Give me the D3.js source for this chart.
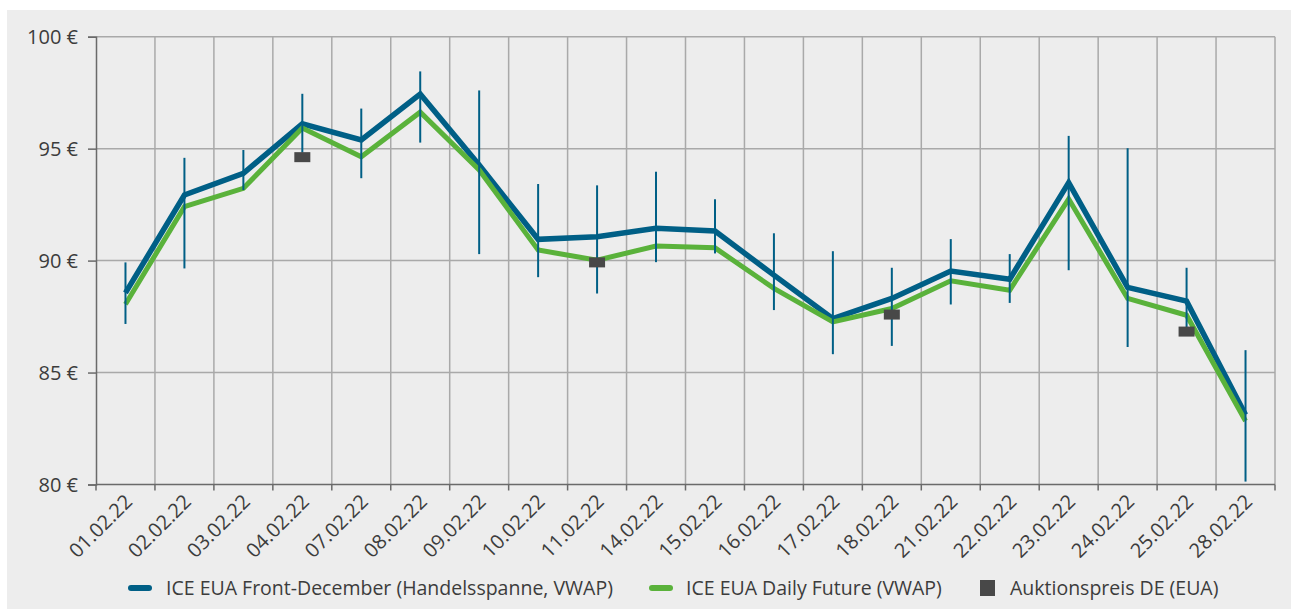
<!DOCTYPE html>
<html>
<head>
<meta charset="utf-8">
<script src="https://cdn.jsdelivr.net/npm/d3@7"></script>
<style>
  body { margin: 0; background: #fff; }
  svg text { font-family: "Open Sans", sans-serif; fill: #3c3c3c; }
</style>
</head>
<body>
<svg id="chart" width="1291" height="609"></svg>
<script>
// DATA
var dates = ["01.02.22", "02.02.22", "03.02.22", "04.02.22", "07.02.22", "08.02.22", "09.02.22",
  "10.02.22", "11.02.22", "14.02.22", "15.02.22", "16.02.22", "17.02.22", "18.02.22",
  "21.02.22", "22.02.22", "23.02.22", "24.02.22", "25.02.22", "28.02.22"];
var frontDec = [88.56, 92.93, 93.9, 96.11, 95.39, 97.44, 94.27, 90.95, 91.07, 91.44,
  91.32, 89.35, 87.41, 88.31, 89.53, 89.17, 93.48, 88.8, 88.19, 83.12];
var frontHigh = [89.92, 94.59, 94.94, 97.45, 96.79, 98.45, 97.6, 93.42, 93.36, 93.97,
  92.74, 91.22, 90.42, 89.68, 90.96, 90.29, 95.57, 95.02, 89.68, 86.0];
var frontLow = [87.17, 89.65, 93.15, 94.82, 93.68, 95.27, 90.29, 89.26, 88.53, 89.93,
  90.32, 87.79, 85.82, 86.19, 88.04, 88.11, 89.57, 86.14, 86.75, 80.13];
var dailyFut = [88.05, 92.41, 93.23, 95.92, 94.64, 96.63, 94.05, 90.47, 90.02, 90.65,
  90.57, 88.76, 87.26, 87.86, 89.1, 88.68, 92.75, 88.31, 87.56, 82.84];
var auction = [null, null, null, 94.62, null, null, null, null, 89.92, null,
  null, null, null, 87.59, null, null, null, null, 86.83, null];
var yTicks = [80, 85, 90, 95, 100];
var legendNames = ["ICE EUA Front-December (Handelsspanne, VWAP)", "ICE EUA Daily Future (VWAP)", "Auktionspreis DE (EUA)"];

var blue = "#005f86", green = "#5ab23b", dark = "#484848", grid = "#a9a9a9";

// SETUP
var svg = d3.select("#chart");
var x = d3.scaleBand().domain(dates).range([96, 1275]).padding(0);
var y = d3.scaleLinear().domain([80, 100]).range([484.5, 36.7]);

svg.append("rect")
  .attr("x", 7).attr("y", 10)
  .attr("width", 1284).attr("height", 599)
  .attr("fill", "#ededed");

// horizontal grid
svg.append("g")
  .selectAll("line")
  .data(yTicks.slice(1))
  .enter().append("line")
  .attr("x1", 96).attr("x2", 1275)
  .attr("y1", function (d) { return y(d); })
  .attr("y2", function (d) { return y(d); })
  .attr("stroke", grid).attr("stroke-width", 1.5);

// vertical grid at band edges
var edges = dates.map(function (d) { return x(d); }).slice(1).concat([x.range()[1]]);
svg.append("g")
  .selectAll("line")
  .data(edges)
  .enter().append("line")
  .attr("x1", function (d) { return d; })
  .attr("x2", function (d) { return d; })
  .attr("y1", y(100)).attr("y2", y(80))
  .attr("stroke", grid).attr("stroke-width", 1.5);

// y axis
var yAxis = svg.append("g")
  .attr("transform", "translate(96,0)")
  .call(d3.axisLeft(y).tickValues(yTicks).tickSize(8).tickPadding(10)
    .tickFormat(function (d) { return d + " €"; }));
yAxis.select(".domain").attr("stroke", "#6a6a6a").attr("stroke-width", 1.5);
yAxis.selectAll(".tick line").attr("stroke", "#6a6a6a").attr("stroke-width", 1.5);
yAxis.selectAll(".tick text")
  .attr("font-size", 20)
  .attr("font-family", "Open Sans")
  .attr("fill", "#3c3c3c")
  .attr("dy", "0.33em");

// x axis
svg.append("line")
  .attr("x1", 96).attr("x2", 1275)
  .attr("y1", y(80)).attr("y2", y(80))
  .attr("stroke", "#6a6a6a").attr("stroke-width", 1.5);
svg.append("g")
  .selectAll("line")
  .data([96].concat(edges))
  .enter().append("line")
  .attr("x1", function (d) { return d; })
  .attr("x2", function (d) { return d; })
  .attr("y1", y(80)).attr("y2", y(80) + 6)
  .attr("stroke", "#6a6a6a").attr("stroke-width", 1.5);

svg.append("g")
  .selectAll("text")
  .data(dates)
  .enter().append("text")
  .attr("transform", function (d) {
    return "translate(" + (x(d) + x.bandwidth() / 2 + 8) + ",503) rotate(-45)";
  })
  .attr("text-anchor", "end")
  .attr("font-size", 20)
  .text(function (d) { return d; });

// LINES
function cx(i) { return x(dates[i]) + x.bandwidth() / 2; }

var line = d3.line()
  .x(function (d, i) { return cx(i); })
  .y(function (d) { return y(d); });

svg.append("path")
  .datum(frontDec)
  .attr("d", line)
  .attr("fill", "none")
  .attr("stroke", blue)
  .attr("stroke-width", 5.5)
  .attr("stroke-linejoin", "miter");

svg.append("path")
  .datum(dailyFut)
  .attr("d", line)
  .attr("fill", "none")
  .attr("stroke", green)
  .attr("stroke-width", 5)
  .attr("stroke-linejoin", "miter");

// high-low range
svg.append("g")
  .selectAll("line")
  .data(dates)
  .enter().append("line")
  .attr("x1", function (d, i) { return cx(i); })
  .attr("x2", function (d, i) { return cx(i); })
  .attr("y1", function (d, i) { return y(frontHigh[i]); })
  .attr("y2", function (d, i) { return y(frontLow[i]); })
  .attr("stroke", blue)
  .attr("stroke-width", 2);

// auction prices
svg.append("g")
  .selectAll("rect")
  .data(auction.map(function (v, i) { return { v: v, i: i }; })
    .filter(function (d) { return d.v !== null; }))
  .enter().append("rect")
  .attr("x", function (d) { return cx(d.i) - 8; })
  .attr("y", function (d) { return y(d.v) - 5; })
  .attr("width", 16)
  .attr("height", 10)
  .attr("fill", dark);

// LEGEND
var legend = svg.append("g");
legend.append("line")
  .attr("x1", 131).attr("x2", 149).attr("y1", 588).attr("y2", 588)
  .attr("stroke", blue).attr("stroke-width", 6).attr("stroke-linecap", "round");
legend.append("text")
  .attr("x", 166).attr("y", 595).attr("font-size", 19.5)
  .text(legendNames[0]);
legend.append("line")
  .attr("x1", 652).attr("x2", 670).attr("y1", 588).attr("y2", 588)
  .attr("stroke", green).attr("stroke-width", 6).attr("stroke-linecap", "round");
legend.append("text")
  .attr("x", 686).attr("y", 595).attr("font-size", 19.5)
  .text(legendNames[1]);
legend.append("rect")
  .attr("x", 980).attr("y", 580).attr("width", 15).attr("height", 16)
  .attr("fill", dark);
legend.append("text")
  .attr("x", 1010).attr("y", 595).attr("font-size", 19.5)
  .text(legendNames[2]);
</script>
</body>
</html>
